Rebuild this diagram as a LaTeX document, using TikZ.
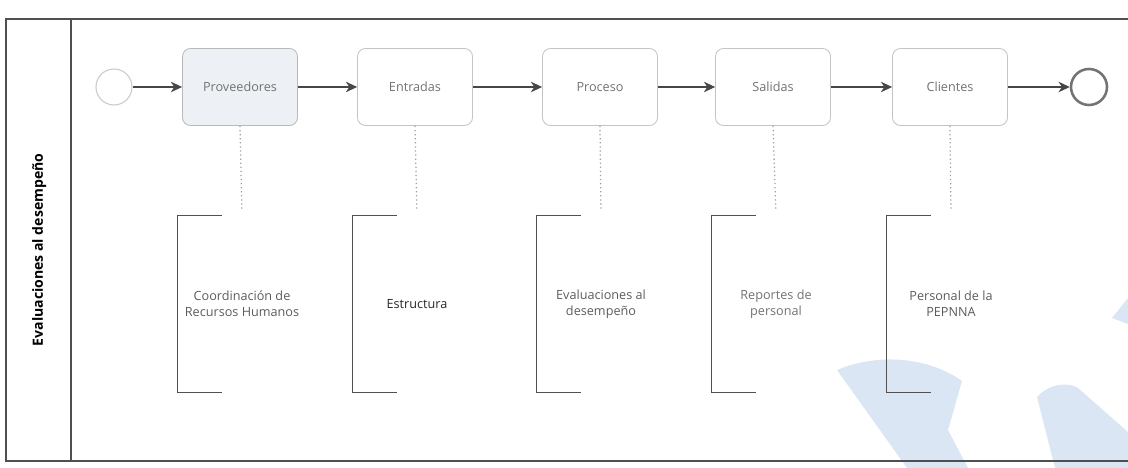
\documentclass[tikz,border=0pt]{standalone}
\usepackage{fontspec}
\setmainfont{Open Sans}
\usetikzlibrary{positioning,arrows.meta}
\definecolor{poolline}{HTML}{505050}
\definecolor{boxline}{HTML}{C4C4C4}
\definecolor{boxfill}{HTML}{EDF1F5}
\definecolor{flowline}{HTML}{474747}
\definecolor{txt}{HTML}{727272}
\definecolor{anntxt}{HTML}{5C5C5C}
\definecolor{waterblue}{HTML}{DAE6F4}

\tikzset{
  taskbox/.style={rounded corners=0.2cm, draw=boxline, fill=white, line width=0.6pt,
    minimum width=2.875cm, minimum height=1.925cm, text=txt, font=\fontsize{9}{11}\selectfont},
  startevt/.style={circle, draw=gray!40, fill=white, line width=0.8pt, minimum size=0.9cm},
  endevt/.style={circle, draw=gray!110, fill=white, line width=1.8pt, minimum size=0.9cm},
  flow/.style={draw=flowline, line width=0.75pt, -{Stealth[length=8pt,width=7.5pt,inset=2.5pt]}},
  assoc/.style={draw=gray!75, dotted, line width=0.9pt, shorten >=0.15cm},
  annot/.style={minimum width=3.2cm, minimum height=4.4cm, align=center, text=anntxt,
    font=\fontsize{9}{11.5}\selectfont},
  bracket/.style={draw=poolline, line width=0.9pt}
}

\begin{document}
\begin{tikzpicture}[x=1cm,y=1cm]
\useasboundingbox (0,0) rectangle (28.2,11.7);
\clip (0,0) rectangle (28.2,11.7);

% faint logo behind the lane
\fill[waterblue] (20.925,2.45) .. controls (22.0,2.9) and (23.25,2.75) .. (24.05,2.175)
  -- (23.7,0.95) -- (24.2,0) -- (22.675,0) -- cycle;
\fill[waterblue] (25.925,1.775) .. controls (26.25,2.125) and (26.7,2.15) .. (26.95,2.0)
  -- (28.2,0.9) -- (28.2,0) -- (26.375,0) -- cycle;
\fill[waterblue] (27.8,3.75) -- (28.2,4.25) -- (28.2,3.6) -- cycle;

% pool and lane header
\draw[poolline, line width=0.8pt] (28.6,11.225) -- (0.15,11.225) -- (0.15,0.175) -- (28.6,0.175);
\draw[poolline, line width=0.8pt] (1.775,11.225) -- (1.775,0.175);
\node[rotate=90, font=\bfseries\fontsize{10}{12}\selectfont] (lanelabel) at (0.98,5.45) {Evaluaciones al desempeño};

% events and tasks
\node[startevt] (start) at (2.85,9.525) {};
\node[taskbox, fill=boxfill, draw=gray!55] (prov) at (6.0,9.525) {Proveedores};
\node[taskbox] (entr) at (10.375,9.525) {Entradas};
\node[taskbox] (proc) at (15.0,9.525) {Proceso};
\node[taskbox] (sal) at (19.325,9.525) {Salidas};
\node[taskbox] (cli) at (23.75,9.525) {Clientes};
\node[endevt] (fin) at (27.225,9.525) {};

\draw[flow] (start) -- (prov);
\draw[flow] (prov) -- (entr);
\draw[flow] (entr) -- (proc);
\draw[flow] (proc) -- (sal);
\draw[flow] (sal) -- (cli);
\draw[flow] (cli) -- (fin);

% text annotations
\node[annot] (annprov) at (6.05,4.1) {Coordinación de\\Recursos Humanos};
\node[annot, text=black!85] (annentr) at (10.425,4.1) {Estructura};
\node[annot] (annproc) at (15.025,4.1) {Evaluaciones al\\desempeño};
\node[annot, text=txt] (annsal) at (19.4,4.1) {Reportes de\\personal};
\node[annot] (anncli) at (23.775,4.1) {Personal de la\\PEPNNA};

\foreach \a in {annprov,annentr,annproc,annsal,anncli}
  \draw[bracket] ([xshift=1.1cm]\a.north west) -- (\a.north west) -- (\a.south west) -- ([xshift=1.1cm]\a.south west);

\draw[assoc] (prov.south) -- (annprov.north);
\draw[assoc] (entr.south) -- (annentr.north);
\draw[assoc] (proc.south) -- (annproc.north);
\draw[assoc] (sal.south) -- (annsal.north);
\draw[assoc] (cli.south) -- (anncli.north);
\end{tikzpicture}
\end{document}
